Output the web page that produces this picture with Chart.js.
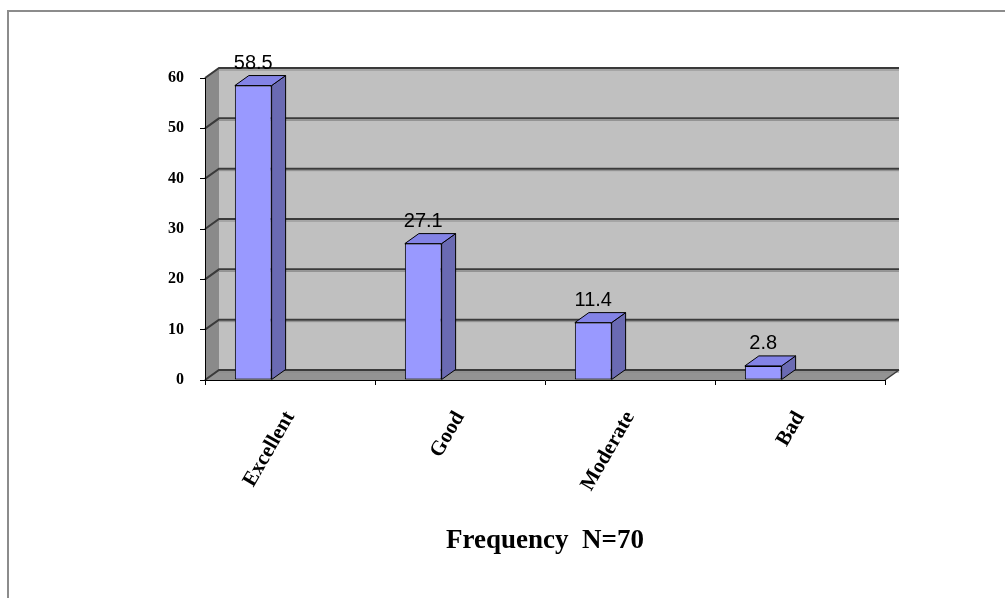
<!DOCTYPE html>
<html>
<head>
<meta charset="utf-8">
<script src="https://cdn.jsdelivr.net/npm/chart.js@4.4.1/dist/chart.umd.min.js"></script>
<style>
  html, body { margin: 0; padding: 0; background: #fff; }
  #wrap { width: 1005px; height: 598px; }
</style>
</head>
<body>
<div id="wrap"><canvas id="freqChart" width="1005" height="598"></canvas></div>
<script>
// data
const categories = ['Excellent', 'Good', 'Moderate', 'Bad'];
const percentages = [58.5, 27.1, 11.4, 2.8];
const spacer = [null, null, null, null]; // empty slot so bars sit left like the excel 3d chart
const yMax = 60;
const yStep = 10;

const DX = 14, DY = -10; // 3d depth

const walls3d = {
    id: 'walls3d',
    beforeDraw(chart) {
        const ctx = chart.ctx;
        const { left, right, top, bottom } = chart.chartArea;
        const y = chart.scales.y;
        ctx.save();
        ctx.fillStyle = '#fff';
        ctx.fillRect(0, 0, chart.width, chart.height);

        // frame, only top and left show
        ctx.strokeStyle = '#8c8c8c';
        ctx.lineWidth = 2;
        ctx.beginPath();
        ctx.moveTo(8, chart.height);
        ctx.lineTo(8, 11);
        ctx.lineTo(chart.width, 11);
        ctx.stroke();

        // back wall
        ctx.fillStyle = '#c0c0c0';
        ctx.fillRect(left + DX, top + DY, right - left, bottom - top);

        // left wall
        ctx.fillStyle = '#8a8a8a';
        ctx.beginPath();
        ctx.moveTo(left, bottom);
        ctx.lineTo(left, top);
        ctx.lineTo(left + DX, top + DY);
        ctx.lineTo(left + DX, bottom + DY);
        ctx.closePath();
        ctx.fill();

        // floor
        ctx.fillStyle = '#939393';
        ctx.beginPath();
        ctx.moveTo(left, bottom);
        ctx.lineTo(right, bottom);
        ctx.lineTo(right + DX, bottom + DY);
        ctx.lineTo(left + DX, bottom + DY);
        ctx.closePath();
        ctx.fill();

        // gridlines on the walls
        y.ticks.forEach(t => {
            const py = y.getPixelForValue(t.value);
            ctx.strokeStyle = '#8a8a8a';
            ctx.lineWidth = 1;
            ctx.beginPath();
            ctx.moveTo(left + DX, py + DY + 2);
            ctx.lineTo(right + DX, py + DY + 2);
            ctx.stroke();
            ctx.strokeStyle = '#3a3a3a';
            ctx.lineWidth = 2;
            ctx.beginPath();
            ctx.moveTo(left, py);
            ctx.lineTo(left + DX, py + DY);
            ctx.lineTo(right + DX, py + DY);
            ctx.stroke();
        });

        // floor right edge
        ctx.strokeStyle = '#3a3a3a';
        ctx.lineWidth = 1.5;
        ctx.beginPath();
        ctx.moveTo(right, bottom);
        ctx.lineTo(right + DX, bottom + DY);
        ctx.stroke();
        ctx.restore();
    },
    afterDatasetsDraw(chart) {
        const ctx = chart.ctx;
        const meta = chart.getDatasetMeta(0);
        ctx.save();
        ctx.strokeStyle = '#000';
        ctx.lineWidth = 1;
        meta.data.forEach((bar, i) => {
            const { x, y, base, width } = bar.getProps(['x', 'y', 'base', 'width'], true);
            const x0 = x - width / 2, x1 = x + width / 2;
            // side face
            ctx.fillStyle = '#6a6ab2';
            ctx.beginPath();
            ctx.moveTo(x1, y);
            ctx.lineTo(x1 + DX, y + DY);
            ctx.lineTo(x1 + DX, base + DY);
            ctx.lineTo(x1, base);
            ctx.closePath();
            ctx.fill();
            ctx.stroke();
            // top face
            ctx.fillStyle = '#8383e6';
            ctx.beginPath();
            ctx.moveTo(x0, y);
            ctx.lineTo(x0 + DX, y + DY);
            ctx.lineTo(x1 + DX, y + DY);
            ctx.lineTo(x1, y);
            ctx.closePath();
            ctx.fill();
            ctx.stroke();
            // value label
            ctx.fillStyle = '#000';
            ctx.font = '20px "Liberation Sans", Arial, sans-serif';
            ctx.textAlign = 'center';
            ctx.textBaseline = 'alphabetic';
            ctx.fillText(String(percentages[i]), x, y - 17);
        });
        ctx.restore();
    }
};

const ctx = document.getElementById('freqChart').getContext('2d');

new Chart(ctx, {
    type: 'bar',
    data: {
        labels: categories,
        datasets: [{
            data: percentages,
            backgroundColor: '#9999ff',
            borderColor: '#000',
            borderWidth: 1,
            borderSkipped: false,
            categoryPercentage: 0.865,
            barPercentage: 0.5
        }, {
            data: spacer,
            categoryPercentage: 0.865,
            barPercentage: 0.5
        }]
    },
    options: {
        responsive: false,
        animation: false,
        layout: {
            padding: { left: 145, right: 120, top: 78, bottom: 37 }
        },
        scales: {
            x: {
                afterFit: s => { s.height = 181; },
                grid: { offset: true, drawOnChartArea: false, tickLength: 5, color: '#000' },
                border: { display: true, color: '#000' },
                ticks: {
                    color: '#000',
                    autoSkip: false,
                    minRotation: 60,
                    maxRotation: 60,
                    padding: 22,
                    font: { family: '"Liberation Serif", "Times New Roman", serif', size: 21, weight: 'bold' }
                },
                title: {
                    display: true,
                    text: 'Frequency  N=70',
                    color: '#000',
                    padding: { top: 0, bottom: 4 },
                    font: { family: '"Liberation Serif", "Times New Roman", serif', size: 27, weight: 'bold' }
                }
            },
            y: {
                min: 0,
                max: yMax,
                afterFit: s => { s.width = 60; },
                grid: { drawOnChartArea: false, tickLength: 5, color: '#000' },
                border: { display: true, color: '#000' },
                ticks: {
                    stepSize: yStep,
                    color: '#000',
                    padding: 16,
                    font: { family: '"Liberation Serif", "Times New Roman", serif', size: 16, weight: 'bold' }
                }
            }
        },
        plugins: {
            legend: { display: false },
            tooltip: { enabled: false }
        }
    },
    plugins: [walls3d]
});
</script>
</body>
</html>
